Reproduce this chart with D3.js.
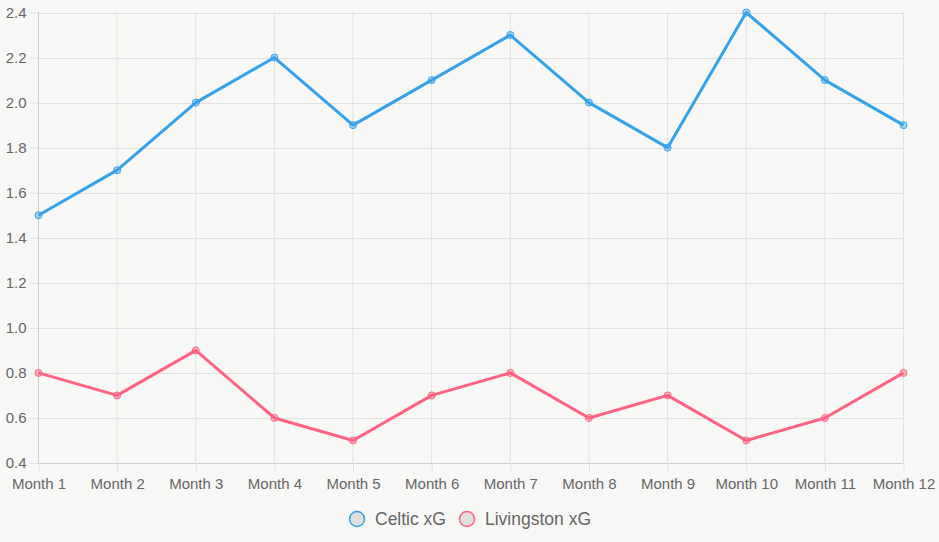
<!DOCTYPE html>
<html>
<head>
<meta charset="utf-8">
<script src="https://cdn.jsdelivr.net/npm/d3@7"></script>
<style>
  html, body { margin: 0; padding: 0; background: #f8f8f6; }
  svg { display: block; font-family: "Liberation Sans", Arial, sans-serif; }
</style>
</head>
<body>
<div id="chart"></div>
<script>
//### DATA ###
const months = [ 'Month 1', 'Month 2', 'Month 3', 'Month 4', 'Month 5', 'Month 6',
  'Month 7', 'Month 8', 'Month 9', 'Month 10', 'Month 11', 'Month 12' ];
const celticXG = [ 1.5, 1.7, 2.0, 2.2, 1.9, 2.1, 2.3, 2.0, 1.8, 2.4, 2.1, 1.9 ];
const livingstonXG = [ 0.8, 0.7, 0.9, 0.6, 0.5, 0.7, 0.8, 0.6, 0.7, 0.5, 0.6, 0.8 ];
const yTicks = [ 0.4, 0.6, 0.8, 1.0, 1.2, 1.4, 1.6, 1.8, 2.0, 2.2, 2.4 ];

const series = [
  { name: 'Celtic xG', values: celticXG, color: '#36a2eb' },
  { name: 'Livingston xG', values: livingstonXG, color: '#ff6384' }
];

//_____ LAYOUT _____
const width = 939;
const height = 542;
const plot = { left: 38.5, right: 903.5, top: 12.5, bottom: 463 };
const gridColor = '#e2e2e0';
const textColor = '#666';

const svg = d3.select( '#chart' ).append( 'svg' )
  .attr( 'width', width )
  .attr( 'height', height );

//_____ SCALES _____
const x = d3.scalePoint()
  .domain( months )
  .range( [ plot.left, plot.right ] );

const y = d3.scaleLinear()
  .domain( [ 0.4, 2.4 ] )
  .range( [ plot.bottom, plot.top ] );

//_____ GRID + AXES _____
const yAxis = svg.append( 'g' )
  .attr( 'transform', `translate(${plot.left},0)` )
  .call( d3.axisLeft( y ).tickValues( yTicks ).tickFormat( d3.format( '.1f' ) ).tickSize( 9 ).tickPadding( 3 ) );
yAxis.select( '.domain' ).attr( 'stroke', '#ccc' ).attr( 'd', `M0,${plot.top}V${plot.bottom}` );
yAxis.selectAll( 'line' ).attr( 'stroke', gridColor ).attr( 'x2', -9 );
yAxis.selectAll( 'text' ).attr( 'fill', textColor ).style( 'font-size', '15px' );

//>>> horizontal grid lines
svg.append( 'g' ).selectAll( 'line' )
  .data( yTicks )
  .enter().append( 'line' )
  .attr( 'x1', plot.left ).attr( 'x2', plot.right )
  .attr( 'y1', d => Math.round( y( d ) ) + 0.5 ).attr( 'y2', d => Math.round( y( d ) ) + 0.5 )
  .attr( 'stroke', d => d === 0.4 ? '#ccc' : gridColor );

const xAxis = svg.append( 'g' )
  .attr( 'transform', `translate(0,${plot.bottom})` )
  .call( d3.axisBottom( x ).tickSize( 9 ).tickPadding( 6 ) );
xAxis.select( '.domain' ).remove();
xAxis.selectAll( 'line' ).attr( 'stroke', gridColor );
xAxis.selectAll( 'text' ).attr( 'fill', textColor ).style( 'font-size', '15px' );

//>>> vertical grid lines
svg.append( 'g' ).selectAll( 'line' )
  .data( months )
  .enter().append( 'line' )
  .attr( 'x1', d => x( d ) ).attr( 'x2', d => x( d ) )
  .attr( 'y1', plot.top ).attr( 'y2', plot.bottom )
  .attr( 'stroke', ( d, i ) => i === 0 ? '#ccc' : gridColor );

//_____ LINES _____
const line = d3.line()
  .x( ( d, i ) => x( months[ i ] ) )
  .y( d => y( d ) );

series.forEach( s => {
  svg.append( 'path' )
    .datum( s.values )
    .attr( 'fill', 'none' )
    .attr( 'stroke', s.color )
    .attr( 'stroke-width', 3 )
    .attr( 'stroke-linejoin', 'round' )
    .attr( 'd', line );

  svg.append( 'g' ).selectAll( 'circle' )
    .data( s.values )
    .enter().append( 'circle' )
    .attr( 'cx', ( d, i ) => x( months[ i ] ) )
    .attr( 'cy', d => y( d ) )
    .attr( 'r', 3.5 )
    .attr( 'fill', d3.color( s.color ).copy( { opacity: 0.4 } ) )
    .attr( 'stroke', s.color )
    .attr( 'stroke-width', 1 );
} );

//_____ LEGEND _____
const legend = svg.append( 'g' ).attr( 'transform', 'translate(0,519)' );
const legendX = [ 357, 467 ];
series.forEach( ( s, i ) => {
  legend.append( 'circle' )
    .attr( 'cx', legendX[ i ] ).attr( 'cy', 0 ).attr( 'r', 7.5 )
    .attr( 'fill', '#e0e0e0' )
    .attr( 'stroke', s.color )
    .attr( 'stroke-width', 1.5 );
  legend.append( 'text' )
    .attr( 'x', legendX[ i ] + 18 ).attr( 'y', 0 )
    .attr( 'dy', '0.35em' )
    .attr( 'fill', textColor )
    .style( 'font-size', '17.5px' )
    .text( s.name );
} );
</script>
</body>
</html>
